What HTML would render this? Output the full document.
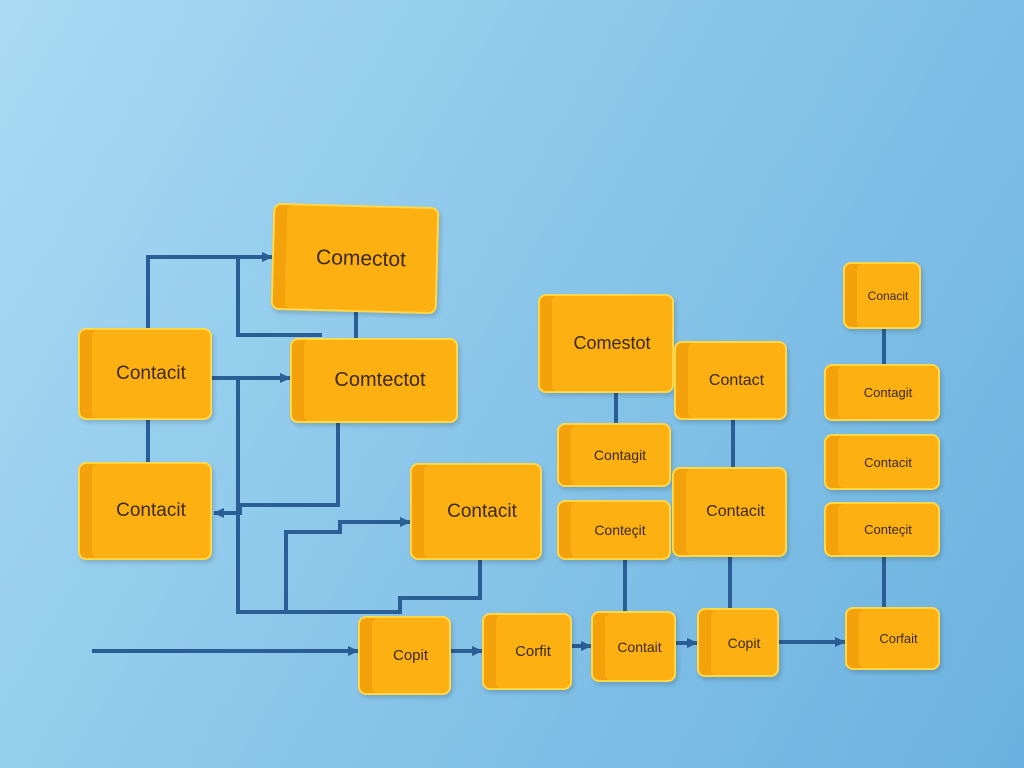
<!DOCTYPE html><html><head><style>
body{margin:0;width:1024px;height:768px;overflow:hidden;background:linear-gradient(120deg,#a9dbf3 0%,#8cc7ea 45%,#6bb2e0 100%);position:relative;font-family:"Liberation Sans",sans-serif}
.b{position:absolute;box-sizing:border-box;background:#fdb012;border:2px solid #ffd84a;border-radius:8px;box-shadow:inset 12px 0 0 #f4a20c,2px 3px 4px rgba(0,0,0,.15);display:flex;align-items:center;justify-content:center;color:#3b2a12;padding-left:12px}
svg{position:absolute;left:0;top:0}
</style></head><body>
<svg width="1024" height="768" fill="none" stroke="#2b5e95" stroke-width="4">
<defs><marker id="a" markerUnits="userSpaceOnUse" markerWidth="11" markerHeight="10" refX="10" refY="5" orient="auto"><path d="M0,0L11,5L0,10z" fill="#2b5e95" stroke="none"/></marker></defs>
<path d="M92 651H358" marker-end="url(#a)"/>
<path d="M451 651H482" marker-end="url(#a)"/>
<path d="M572 646H591" marker-end="url(#a)"/>
<path d="M676 643H697" marker-end="url(#a)"/>
<path d="M779 642H845" marker-end="url(#a)"/>
<path d="M148 328V257H272" marker-end="url(#a)"/>
<path d="M238 257V335H322"/>
<path d="M212 378H290" marker-end="url(#a)"/>
<path d="M238 378V612H400V598H480V560"/>
<path d="M338 423V505H240V513H214" marker-end="url(#a)"/>
<path d="M286 612V532H340V522H410" marker-end="url(#a)"/>
<path d="M148 420V462M356 312V338M616 393V423M625 560V611M733 420V467M730 557V608M884 329V364M884 557V607"/>
</svg>
<div class="b" style="left:272px;top:205px;width:166px;height:107px;font-size:21px;transform:rotate(1.5deg)">Comectot</div>
<div class="b" style="left:78px;top:328px;width:134px;height:92px;font-size:19px">Contacit</div>
<div class="b" style="left:290px;top:338px;width:168px;height:85px;font-size:20px">Comtectot</div>
<div class="b" style="left:78px;top:462px;width:134px;height:98px;font-size:19px">Contacit</div>
<div class="b" style="left:410px;top:463px;width:132px;height:97px;font-size:19px">Contacit</div>
<div class="b" style="left:538px;top:294px;width:136px;height:99px;font-size:18px">Comestot</div>
<div class="b" style="left:674px;top:341px;width:113px;height:79px;font-size:16px">Contact</div>
<div class="b" style="left:557px;top:423px;width:114px;height:64px;font-size:14px">Contagit</div>
<div class="b" style="left:557px;top:500px;width:114px;height:60px;font-size:14px">Conteçit</div>
<div class="b" style="left:672px;top:467px;width:115px;height:90px;font-size:16px">Contacit</div>
<div class="b" style="left:843px;top:262px;width:78px;height:67px;font-size:12px">Conacit</div>
<div class="b" style="left:824px;top:364px;width:116px;height:57px;font-size:13px">Contagit</div>
<div class="b" style="left:824px;top:434px;width:116px;height:56px;font-size:13px">Contacit</div>
<div class="b" style="left:824px;top:502px;width:116px;height:55px;font-size:13px">Conteçit</div>
<div class="b" style="left:358px;top:616px;width:93px;height:79px;font-size:15px">Copit</div>
<div class="b" style="left:482px;top:613px;width:90px;height:77px;font-size:15px">Corfit</div>
<div class="b" style="left:591px;top:611px;width:85px;height:71px;font-size:14px">Contait</div>
<div class="b" style="left:697px;top:608px;width:82px;height:69px;font-size:14px">Copit</div>
<div class="b" style="left:845px;top:607px;width:95px;height:63px;font-size:13px">Corfait</div>
</body></html>
